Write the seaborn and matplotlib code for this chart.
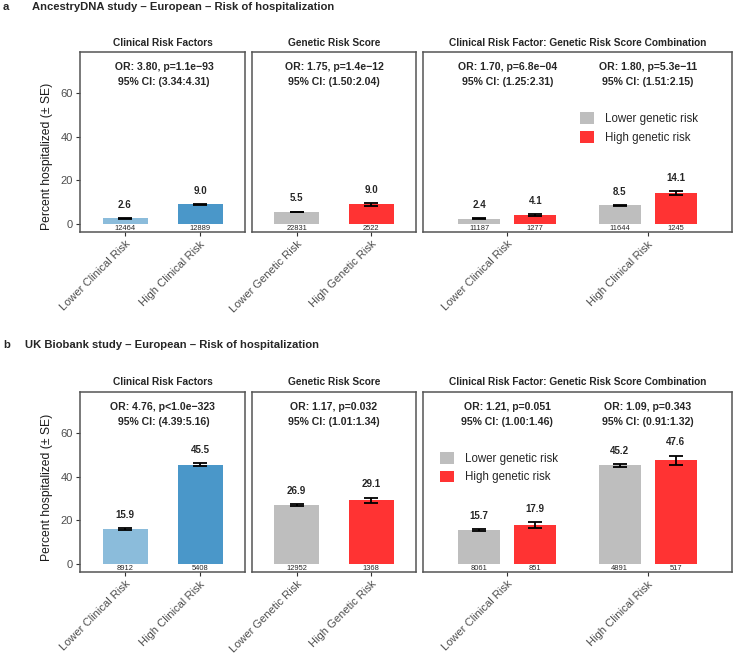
import numpy as np
import pandas as pd
import seaborn as sns
import matplotlib.pyplot as plt
from matplotlib.container import BarContainer

############# Data ######################################
########################################################
clin_groups = ['Lower Clinical Risk', 'High Clinical Risk']
gen_groups = ['Lower Genetic Risk', 'High Genetic Risk']
gen_levels = ['Lower genetic risk', 'High genetic risk']

# AncestryDNA
a_crf_pct = [2.6, 9.0]
a_crf_se = [0.14, 0.25]
a_crf_n = [12464, 12889]
a_grs_pct = [5.5, 9.0]
a_grs_se = [0.15, 0.57]
a_grs_n = [22831, 2522]
a_combo_pct = [2.4, 4.1, 8.5, 14.1]
a_combo_se = [0.14, 0.55, 0.26, 0.99]
a_combo_n = [11187, 1277, 11644, 1245]
a_or_text = [' OR: 3.80, p=1.1e\u221293\n 95% CI: (3.34:4.31)',
             'OR: 1.75, p=1.4e\u221212\n95% CI: (1.50:2.04)',
             'OR: 1.70, p=6.8e\u221204\n95% CI: (1.25:2.31)',
             'OR: 1.80, p=5.3e\u221211\n95% CI: (1.51:2.15)']

# UK Biobank
b_crf_pct = [15.9, 45.5]
b_crf_se = [0.39, 0.68]
b_crf_n = [8912, 5408]
b_grs_pct = [26.9, 29.1]
b_grs_se = [0.39, 1.3]
b_grs_n = [12952, 1368]
b_combo_pct = [15.7, 17.9, 45.2, 47.6]
b_combo_se = [0.41, 1.31, 0.71, 2.1]
b_combo_n = [8061, 851, 4891, 517]
b_or_text = ['OR: 4.76, p<1.0e\u2212323\n 95% CI: (4.39:5.16)',
             'OR: 1.17, p=0.032\n95% CI: (1.01:1.34)',
             'OR: 1.21, p=0.051\n95% CI: (1.00:1.46)',
             'OR: 1.09, p=0.343\n95% CI: (0.91:1.32)']

row_titles = ['AncestryDNA study \u2013 European \u2013 Risk of hospitalization',
              'UK Biobank study \u2013 European \u2013 Risk of hospitalization']
strip_titles = ['Clinical Risk Factors', 'Genetic Risk Score',
                'Clinical Risk Factor: Genetic Risk Score Combination']

blues = ['#8BBCDB', '#4A97C9']
gen_cols = ['#BEBEBE', '#FF3333']

############# Style ####################################
########################################################
sns.set_style('white')
plt.rcParams['font.family'] = ['Liberation Sans', 'DejaVu Sans']
W, H = 733, 653
fig = plt.figure(figsize=(W / 100, H / 100), dpi=100)
YLIM = (-3.7, 79)
border = '#555555'
txt_gray = '#4D4D4D'


def add_ax(x0, y0, x1, y1):
    return fig.add_axes([x0 / W, 1 - y1 / H, (x1 - x0) / W, (y1 - y0) / H])


def finish_bars(ax, df):
    # error bars, value labels and n labels, matched to bars by height
    bars = [b for c in ax.containers if isinstance(c, BarContainer) for b in c if b is not None]
    for bar in bars:
        h = bar.get_height()
        if np.isnan(h):
            continue
        xc = bar.get_x() + bar.get_width() / 2
        row = df[np.isclose(df['pct'], h)].iloc[0]
        ax.errorbar(xc, h, yerr=row['se'], fmt='none', ecolor='black',
                    elinewidth=1.3, capsize=5.3, capthick=1.3, zorder=3)
        ax.annotate(f'{h:.1f}', xy=(xc, h + row['se']), xytext=(0, 9.5),
                    textcoords='offset points', ha='center', va='center',
                    fontsize=7, fontweight='bold')
        ax.text(xc, -2.15, str(row['n']), ha='center', va='center', fontsize=5.4)


def style_ax(ax, title, first):
    ax.set_ylim(*YLIM)
    ax.set_title(title, fontsize=7.3, fontweight='bold', pad=4.5)
    ax.set_xlabel('')
    for s in ax.spines.values():
        s.set_color(border)
        s.set_linewidth(1.1)
    ax.tick_params(axis='x', bottom=True, length=3, width=0.8, color='#333333',
                   labelsize=8, labelcolor=txt_gray, pad=2)
    for lab in ax.get_xticklabels():
        lab.set_rotation(45)
        lab.set_ha('right')
        lab.set_va('top')
        lab.set_rotation_mode('anchor')
    if first:
        ax.set_yticks([0, 20, 40, 60])
        ax.tick_params(axis='y', left=True, length=3, width=0.8, color='#333333',
                       labelsize=8, labelcolor=txt_gray, pad=2)
        ax.set_ylabel('Percent hospitalized (\u00b1 SE)', fontsize=8.7, color='#1A1A1A')
    else:
        ax.set_yticks([])
        ax.set_ylabel('')


def draw_row(top, bottom, crf, grs, combo, or_text, legend_x, ylab_y):
    # Clinical risk factors
    ax1 = add_ax(80, top, 245, bottom)
    df1 = pd.DataFrame({'group': clin_groups, 'pct': crf[0], 'se': crf[1], 'n': crf[2]})
    sns.barplot(data=df1, x='group', y='pct', hue='group', palette=blues, width=0.6,
                errorbar=None, saturation=1, legend=False, linewidth=0, ax=ax1)
    ax1.set_xlim(-0.6, 1.6)
    finish_bars(ax1, df1)
    ax1.text(0.5, 72, or_text[0].split('\n')[0], ha='center', va='center', fontsize=7.6, fontweight='bold')
    ax1.text(0.5, 65.3, or_text[0].split('\n')[1], ha='center', va='center', fontsize=7.6, fontweight='bold')
    style_ax(ax1, strip_titles[0], True)
    ax1.yaxis.set_label_coords(-0.165, ylab_y)

    # Genetic risk score
    ax2 = add_ax(252, top, 416, bottom)
    df2 = pd.DataFrame({'group': gen_groups, 'pct': grs[0], 'se': grs[1], 'n': grs[2]})
    sns.barplot(data=df2, x='group', y='pct', hue='group', palette=gen_cols, width=0.6,
                errorbar=None, saturation=1, legend=False, linewidth=0, ax=ax2)
    ax2.set_xlim(-0.6, 1.6)
    finish_bars(ax2, df2)
    ax2.text(0.5, 72, or_text[1].split('\n')[0], ha='center', va='center', fontsize=7.6, fontweight='bold')
    ax2.text(0.5, 65.3, or_text[1].split('\n')[1], ha='center', va='center', fontsize=7.6, fontweight='bold')
    style_ax(ax2, strip_titles[1], False)

    # Combination
    ax3 = add_ax(423, top, 732, bottom)
    df3 = pd.DataFrame({'clinical': [clin_groups[0]] * 2 + [clin_groups[1]] * 2,
                        'genetic': gen_levels * 2,
                        'pct': combo[0], 'se': combo[1], 'n': combo[2]})
    sns.barplot(data=df3, x='clinical', y='pct', hue='genetic', hue_order=gen_levels,
                palette=gen_cols, width=0.8, gap=0.25, errorbar=None, saturation=1,
                linewidth=0, ax=ax3)
    ax3.set_xlim(-0.6, 1.6)
    finish_bars(ax3, df3)
    for i in range(2):
        ax3.text(i, 72, or_text[2 + i].split('\n')[0], ha='center', va='center', fontsize=7.6, fontweight='bold')
        ax3.text(i, 65.3, or_text[2 + i].split('\n')[1], ha='center', va='center', fontsize=7.6, fontweight='bold')
    style_ax(ax3, strip_titles[2], False)
    ax3.legend(loc='upper left', bbox_to_anchor=(legend_x, 0.665), frameon=False,
               fontsize=8.3, handlelength=1.2, handleheight=1.2, labelspacing=0.5,
               handletextpad=1.0, borderpad=0, borderaxespad=0, title=None)


draw_row(52, 232, (a_crf_pct, a_crf_se, a_crf_n), (a_grs_pct, a_grs_se, a_grs_n),
         (a_combo_pct, a_combo_se, a_combo_n), a_or_text, 0.508, 0.42)
draw_row(391.7, 572, (b_crf_pct, b_crf_se, b_crf_n), (b_grs_pct, b_grs_se, b_grs_n),
         (b_combo_pct, b_combo_se, b_combo_n), b_or_text, 0.055, 0.47)

# Row headings
fig.text(3 / W, 1 - 7.5 / H, 'a', fontsize=8.1, fontweight='bold', va='center')
fig.text(31.5 / W, 1 - 7.5 / H, row_titles[0], fontsize=8.1, fontweight='bold', va='center')
fig.text(3 / W, 1 - 345 / H, 'b', fontsize=8.1, fontweight='bold', va='center')
fig.text(25 / W, 1 - 345 / H, row_titles[1], fontsize=8.1, fontweight='bold', va='center')

fig.savefig('out.png', dpi=100)
